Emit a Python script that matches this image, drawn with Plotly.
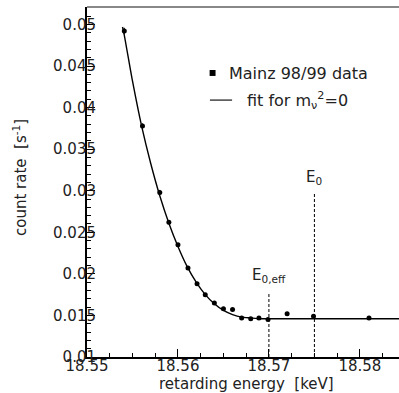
import plotly.graph_objects as go

# measured data points (retarding energy in keV, count rate in 1/s)
energy = [18.5541, 18.5561, 18.5580, 18.5590, 18.5600, 18.5611, 18.5621, 18.5630,
          18.5640, 18.5650, 18.5660, 18.5670, 18.5680, 18.5689, 18.5699, 18.5720,
          18.5749, 18.5810]
rate = [0.0492, 0.0378, 0.0298, 0.0262, 0.0235, 0.0207, 0.0188, 0.0175,
        0.0165, 0.0158, 0.0157, 0.0147, 0.0146, 0.0147, 0.0145, 0.0152,
        0.0149, 0.0147]
rate_err = [0.0004, 0.0003, 0.0003, 0.0002, 0.0002, 0.0002, 0.0002, 0.0002,
            0.0002, 0.0002, 0.0002, 0.0002, 0.0002, 0.0002, 0.0002, 0.0002,
            0.0002, 0.0002]

# fit curve
fit_energy = [18.5539, 18.554, 18.555, 18.556, 18.557, 18.558, 18.559, 18.560, 18.561,
              18.562, 18.563, 18.564, 18.565, 18.566, 18.567, 18.568,
              18.569, 18.570, 18.586]
fit_rate = [0.0497, 0.0493, 0.0432, 0.0378, 0.0333, 0.0294, 0.0261, 0.0233, 0.0209,
            0.0190, 0.0175, 0.0164, 0.0156, 0.0151, 0.0148, 0.0147,
            0.0146, 0.0146, 0.0146]

# endpoint markers
e0_eff = 18.570
e0 = 18.575

x_ticks = [18.55, 18.56, 18.57, 18.58]
x_ticktext = ["18.55", "18.56", "18.57", "18.58"]
y_ticks = [0.01, 0.015, 0.02, 0.025, 0.03, 0.035, 0.04, 0.045, 0.05]
y_ticktext = ["0.01", "0.015", "0.02", "0.025", "0.03", "0.035", "0.04", "0.045", "0.05"]

FONT = "DejaVu Sans"
TXT = "#222222"

fig = go.Figure()
fig.add_trace(go.Scatter(x=fit_energy, y=fit_rate, mode="lines",
                         line=dict(color="black", width=1.4, shape="spline", smoothing=0.6),
                         showlegend=False, hoverinfo="skip"))
fig.add_trace(go.Scatter(x=energy, y=rate, mode="markers",
                         marker=dict(color="black", size=5, symbol="circle"),
                         error_y=dict(type="data", array=rate_err, color="black",
                                      thickness=1, width=0),
                         showlegend=False))

shapes = []
# dashed vertical lines
shapes.append(dict(type="line", xref="x", yref="y", x0=e0_eff, x1=e0_eff,
                   y0=0.01, y1=0.0178, line=dict(color="black", width=1, dash="3px,2px")))
shapes.append(dict(type="line", xref="x", yref="y", x0=e0, x1=e0,
                   y0=0.01, y1=0.0298, line=dict(color="black", width=1, dash="3px,2px")))
# top frame line
shapes.append(dict(type="line", xref="paper", yref="paper", x0=0, x1=1, y0=1, y1=1,
                   line=dict(color="#888888", width=2)))
# legend items
shapes.append(dict(type="rect", xref="paper", yref="paper",
                   x0=0.393, x1=0.412, y0=0.803, y1=0.820,
                   fillcolor="black", line=dict(width=0)))
shapes.append(dict(type="line", xref="paper", yref="paper",
                   x0=0.394, x1=0.465, y0=0.734, y1=0.734,
                   line=dict(color="#444444", width=1.5)))

annotations = [
    dict(text="Mainz 98/99 data", xref="paper", yref="paper", x=0.449, y=0.811,
         xanchor="left", yanchor="middle", showarrow=False,
         font=dict(family=FONT, size=16, color=TXT)),
    dict(text="fit for m<sub>ν</sub><sup>2</sup>=0", xref="paper", yref="paper",
         x=0.506, y=0.734, xanchor="left", yanchor="middle", showarrow=False,
         font=dict(family=FONT, size=16, color=TXT)),
    dict(text="E<sub>0</sub>", xref="x", yref="y", x=e0, y=0.0316,
         xanchor="center", yanchor="middle", showarrow=False,
         font=dict(family=FONT, size=15, color=TXT)),
    dict(text="E<sub>0,eff</sub>", xref="x", yref="y", x=e0_eff, y=0.0198,
         xanchor="center", yanchor="middle", showarrow=False,
         font=dict(family=FONT, size=15, color=TXT)),
    dict(text="retarding energy  [keV]", xref="paper", yref="paper",
         x=(246 - 87) / 312, y=-27 / 350, xanchor="center", yanchor="middle",
         showarrow=False, font=dict(family=FONT, size=15, color=TXT)),
    dict(text="count rate  [s<sup>-1</sup>]", xref="paper", yref="paper",
         x=-67 / 312, y=(357 - 178) / 350, xanchor="center", yanchor="middle",
         textangle=-90, showarrow=False, font=dict(family=FONT, size=15, color=TXT)),
]

fig.update_layout(
    width=399, height=393,
    margin=dict(l=87, r=0, t=7, b=36),
    paper_bgcolor="white", plot_bgcolor="white",
    shapes=shapes, annotations=annotations,
    font=dict(family=FONT, size=15, color=TXT),
    showlegend=False,
)
fig.update_xaxes(range=[18.55, 18.5843], tickvals=x_ticks, ticktext=x_ticktext,
                 ticks="inside", ticklen=8, tickwidth=1, tickcolor="black",
                 showline=True, linecolor="black", linewidth=2,
                 showgrid=False, zeroline=False, ticklabelstandoff=-6,
                 minor=dict(ticks="inside", ticklen=4, dtick=0.0025, tick0=18.55,
                            tickcolor="black", showgrid=False),
                 tickfont=dict(family=FONT, size=15, color=TXT))
fig.update_yaxes(range=[0.01, 0.0521], tickvals=y_ticks, ticktext=y_ticktext,
                 ticks="inside", ticklen=8, tickwidth=1, tickcolor="black",
                 showline=True, linecolor="black", linewidth=2,
                 showgrid=False, zeroline=False, ticklabelstandoff=-14,
                 minor=dict(ticks="inside", ticklen=4, dtick=0.001, tick0=0.01,
                            tickcolor="black", showgrid=False),
                 tickfont=dict(family=FONT, size=15, color=TXT))

fig.write_html("out.html", config={"displayModeBar": False},
               post_script="document.body.style.margin='0px';document.body.style.overflow='hidden';")
